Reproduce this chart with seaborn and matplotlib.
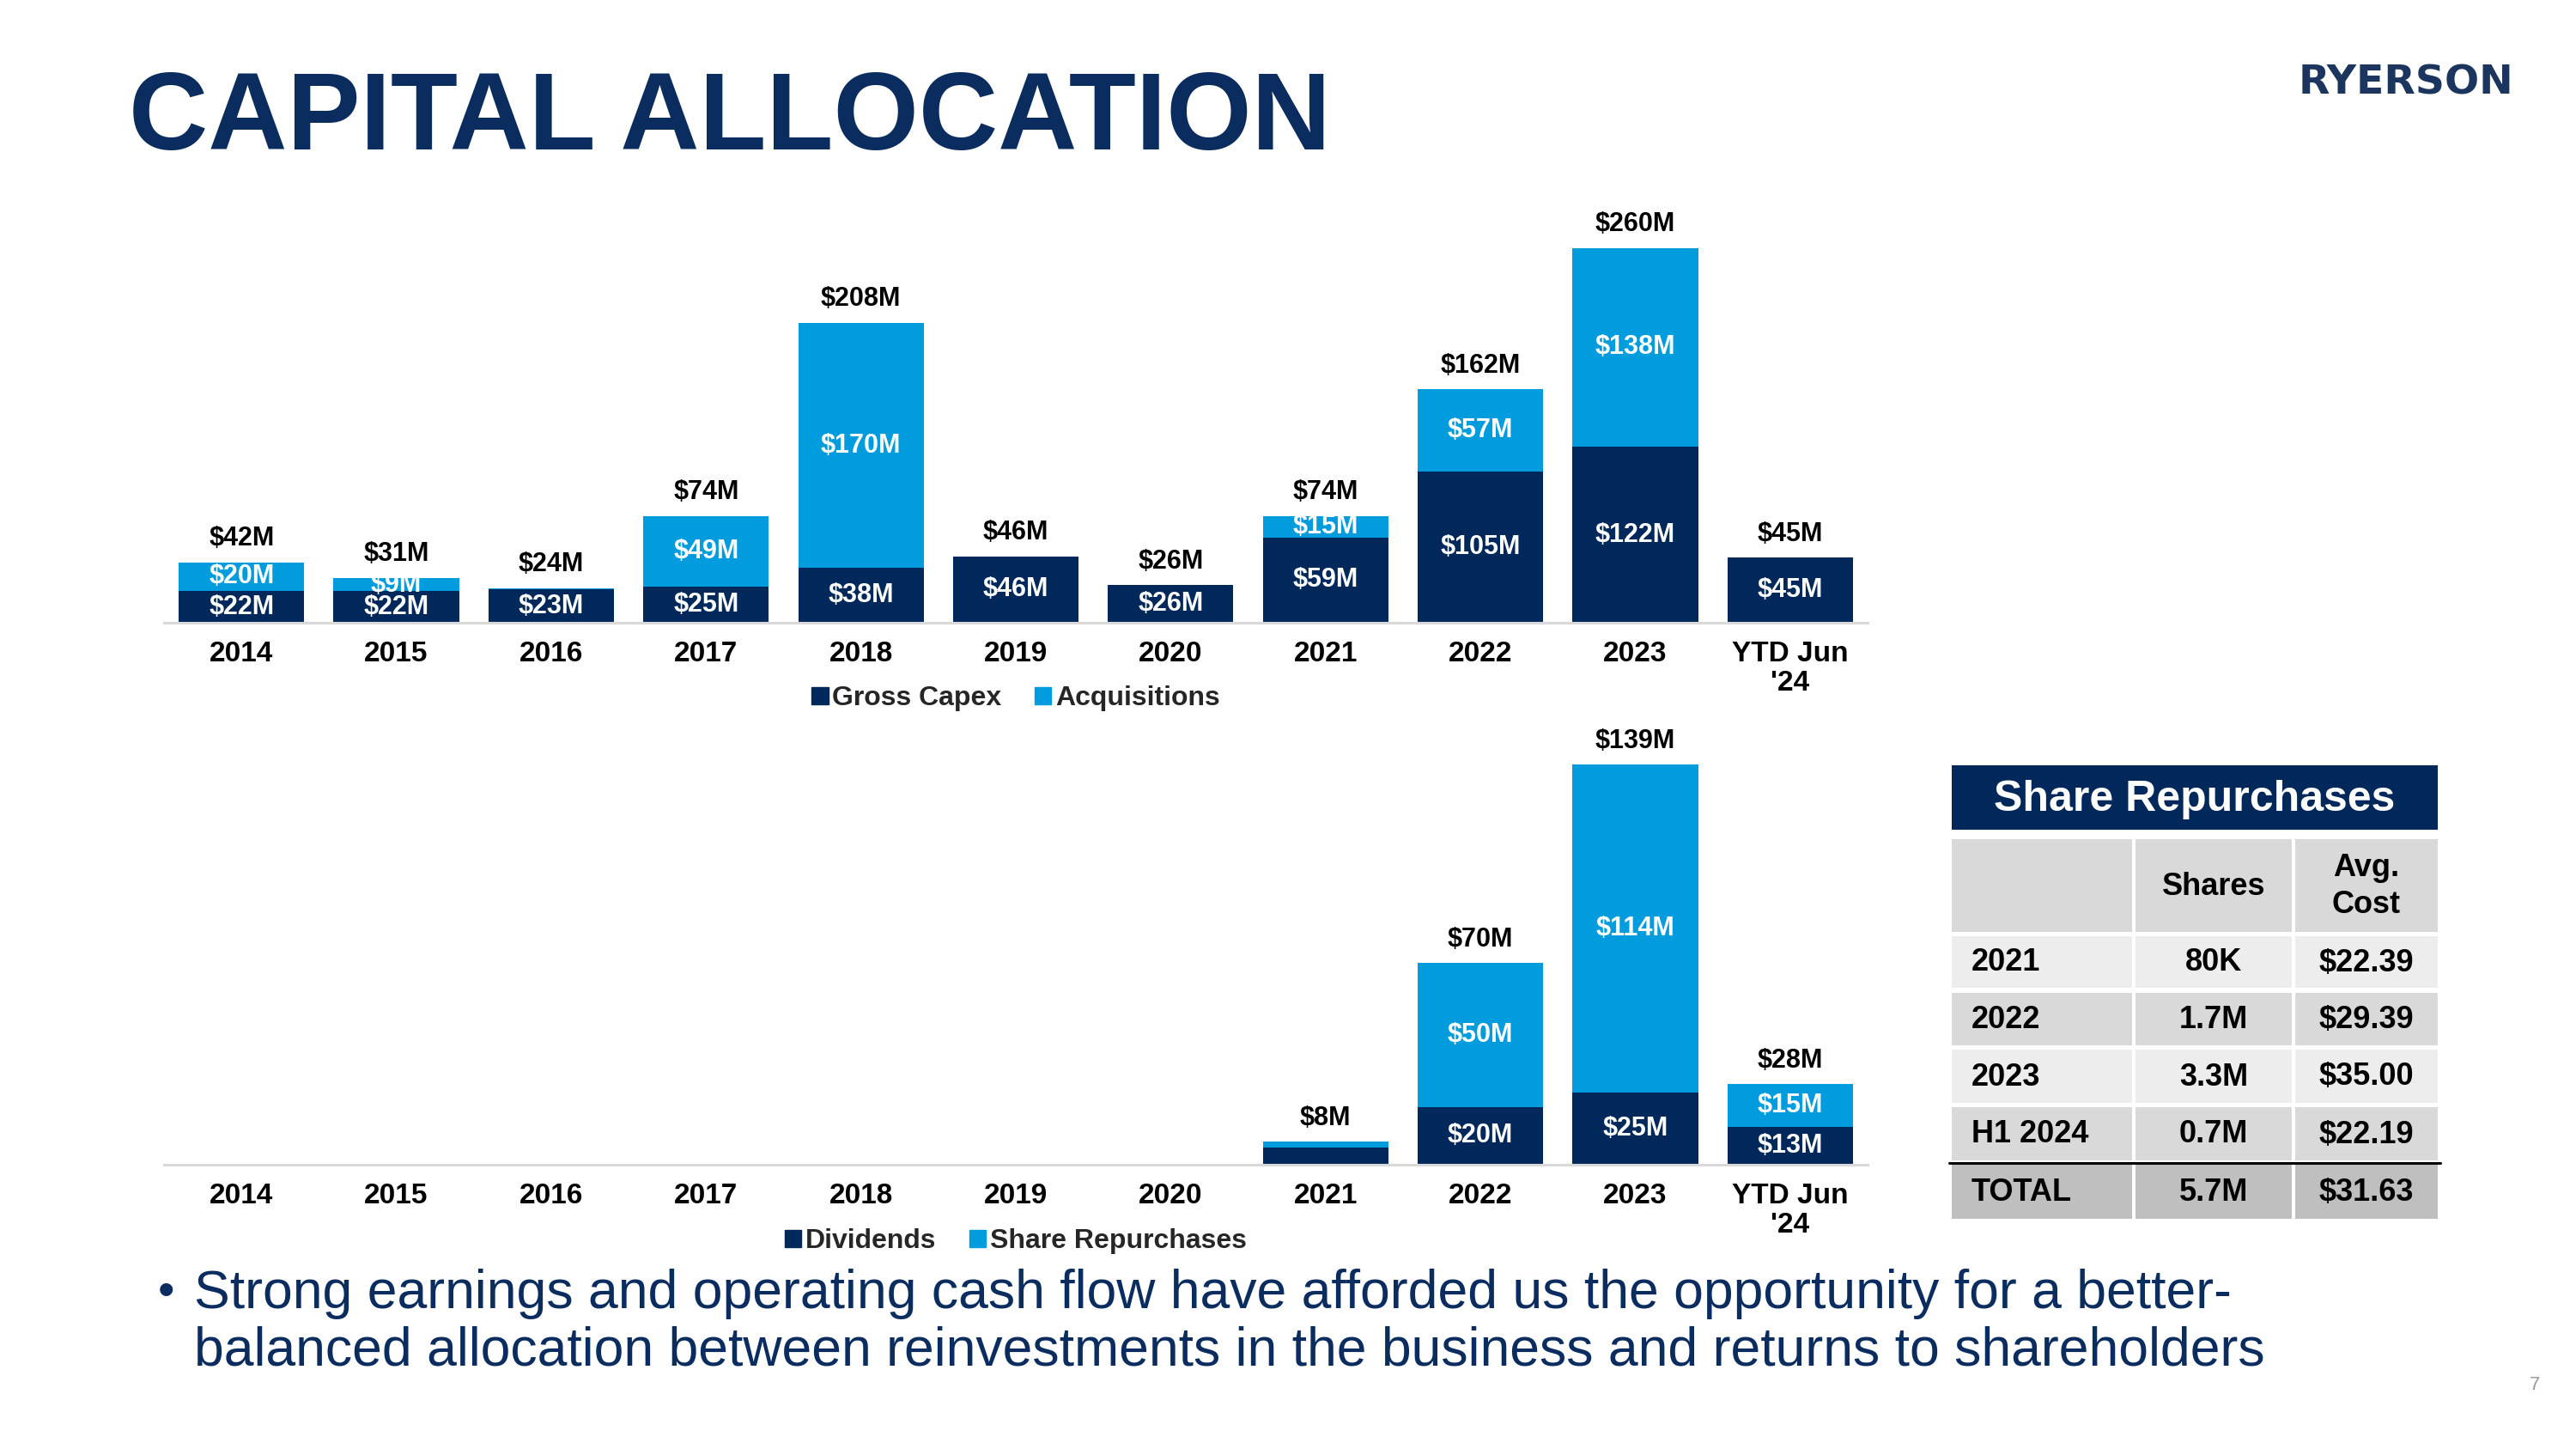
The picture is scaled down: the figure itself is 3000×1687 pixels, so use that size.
import matplotlib
matplotlib.use("Agg")
import matplotlib.pyplot as plt
from matplotlib.patches import Rectangle, Patch
import pandas as pd
import seaborn as sns

# chart data ($M)
years = ['2014', '2015', '2016', '2017', '2018', '2019', '2020', '2021', '2022', '2023', "YTD Jun\n'24"]
gross_capex = [22, 22, 23, 25, 38, 46, 26, 59, 105, 122, 45]
acquisitions = [20, 9, 1, 49, 170, 0, 0, 15, 57, 138, 0]
dividends = [0, 0, 0, 0, 0, 0, 0, 6, 20, 25, 13]
repurchases = [0, 0, 0, 0, 0, 0, 0, 2, 50, 114, 15]

# share repurchase table
table_title = 'Share Repurchases'
table_cols = ['', 'Shares', 'Avg.\nCost']
table_rows = ['2021', '2022', '2023', 'H1 2024', 'TOTAL']
table_shares = ['80K', '1.7M', '3.3M', '0.7M', '5.7M']
table_cost = ['$22.39', '$29.39', '$35.00', '$22.19', '$31.63']

title = 'CAPITAL ALLOCATION'
bullet = ['Strong earnings and operating cash flow have afforded us the opportunity for a better-',
          'balanced allocation between reinvestments in the business and returns to shareholders']

NAVY = '#00285A'
BLUE = '#009CDE'
TEXT_NAVY = '#0A2C5E'
W, H = 3000, 1687

sns.set_theme(style='white')
plt.rcParams['font.family'] = ['Liberation Sans', 'DejaVu Sans']


def stacked_panel(ax, base, top, base_name, top_name, ymax, min_label):
    df = pd.DataFrame({'year': years, base_name: base, top_name: top})
    df['total'] = df[base_name] + df[top_name]

    # total in light blue, base segment drawn over it in navy
    sns.barplot(data=df, x='year', y='total', color=BLUE, saturation=1, width=0.81,
                linewidth=0, errorbar=None, ax=ax)
    sns.barplot(data=df, x='year', y=base_name, color=NAVY, saturation=1, width=0.81,
                linewidth=0, errorbar=None, ax=ax)

    for i in range(len(df)):
        b = int(df[base_name][i])
        t = int(df[top_name][i])
        if b + t > 0:
            ax.annotate('${}M'.format(b + t), (i, b + t), xytext=(0, 9), textcoords='offset points',
                        ha='center', va='bottom', fontsize=22, fontweight='bold', color='black')
        if b >= min_label:
            ax.text(i, b / 2, '${}M'.format(b), ha='center', va='center', fontsize=22,
                    fontweight='bold', color='white')
        if t >= min_label:
            ax.text(i, b + t / 2, '${}M'.format(t), ha='center', va='center', fontsize=22,
                    fontweight='bold', color='white')

    ax.set_xlim(-0.5, len(years) - 0.5)
    ax.set_ylim(0, ymax)
    ax.set_yticks([])
    ax.set_xlabel('')
    ax.set_ylabel('')
    sns.despine(ax=ax, left=True)
    ax.spines['bottom'].set_color('#D9D9D9')
    ax.spines['bottom'].set_linewidth(2.2)
    ax.tick_params(axis='x', length=0, pad=15, labelsize=24)
    for lbl in ax.get_xticklabels():
        lbl.set_fontweight('bold')
        lbl.set_color('black')
        lbl.set_linespacing(1.15)
    ax.patch.set_alpha(0)


fig = plt.figure(figsize=(30, 16.87), dpi=100)

# overlay in pixel coordinates for page text and the table
ov = fig.add_axes([0, 0, 1, 1])
ov.set_xlim(0, W)
ov.set_ylim(H, 0)
ov.axis('off')

ov.text(150, 174, title, fontsize=92, fontweight='bold', color=TEXT_NAVY, va='baseline', ha='left')
ov.text(2927, 109, 'RYERSON', fontsize=34, fontweight='bold', color='#1C355E', va='baseline', ha='right',
        family='DejaVu Sans')

ov.text(184, 1506, '\u2022', fontsize=40, color=TEXT_NAVY, va='center', ha='left')
ov.text(226, 1506, bullet[0], fontsize=45, color=TEXT_NAVY, va='center', ha='left')
ov.text(226, 1573, bullet[1], fontsize=45, color=TEXT_NAVY, va='center', ha='left')
ov.text(2952, 1613, '7', fontsize=16, color='#9A9A9A', va='center', ha='center')

# table
col_x = [(2273, 2483), (2487, 2669), (2673, 2839)]
row_y = [(977, 1085), (1090, 1150), (1156, 1217), (1222, 1284), (1289, 1351), (1356, 1419)]
row_fill = ['#D9D9D9', '#EDEDED', '#D9D9D9', '#EDEDED', '#D9D9D9', '#BFBFBF']

ov.add_patch(Rectangle((2273, 891), 2839 - 2273, 966 - 891, color=NAVY, lw=0))
ov.text((2273 + 2839) / 2, 931, table_title, fontsize=36, fontweight='bold', color='white',
        ha='center', va='center')

cells = [table_cols] + [[r, s, c] for r, s, c in zip(table_rows, table_shares, table_cost)]
for r, (y0, y1) in enumerate(row_y):
    for c, (x0, x1) in enumerate(col_x):
        ov.add_patch(Rectangle((x0, y0), x1 - x0, y1 - y0, color=row_fill[r], lw=0))
        txt = cells[r][c]
        if c == 0:
            ov.text(2296, (y0 + y1) / 2 + 1, txt, fontsize=26, fontweight='bold', color='black',
                    ha='left', va='center')
        else:
            ov.text((x0 + x1) / 2, (y0 + y1) / 2 + 1, txt, fontsize=26, fontweight='bold', color='black',
                    ha='center', va='center', linespacing=1.3)
ov.plot([2270, 2842], [1353.5, 1353.5], color='black', lw=2.2)

# charts
ax_top = fig.add_axes([191 / W, 1 - 725 / H, 1984 / W, 475 / H])
stacked_panel(ax_top, gross_capex, acquisitions, 'Gross Capex', 'Acquisitions', 283, 5)

ax_bot = fig.add_axes([191 / W, 1 - 1356 / H, 1984 / W, 486 / H])
stacked_panel(ax_bot, dividends, repurchases, 'Dividends', 'Share Repurchases', 145, 10)

for y, names in [(813, ['Gross Capex', 'Acquisitions']), (1445, ['Dividends', 'Share Repurchases'])]:
    fig.legend([Patch(color=NAVY), Patch(color=BLUE)], names, loc='center',
               bbox_to_anchor=(1183 / W, 1 - y / H), ncol=2, frameon=False,
               prop={'size': 23, 'weight': 'bold'}, handlelength=0.6, handleheight=0.6,
               handletextpad=0.15, columnspacing=1.2)

fig.savefig('out.png', dpi=100)
